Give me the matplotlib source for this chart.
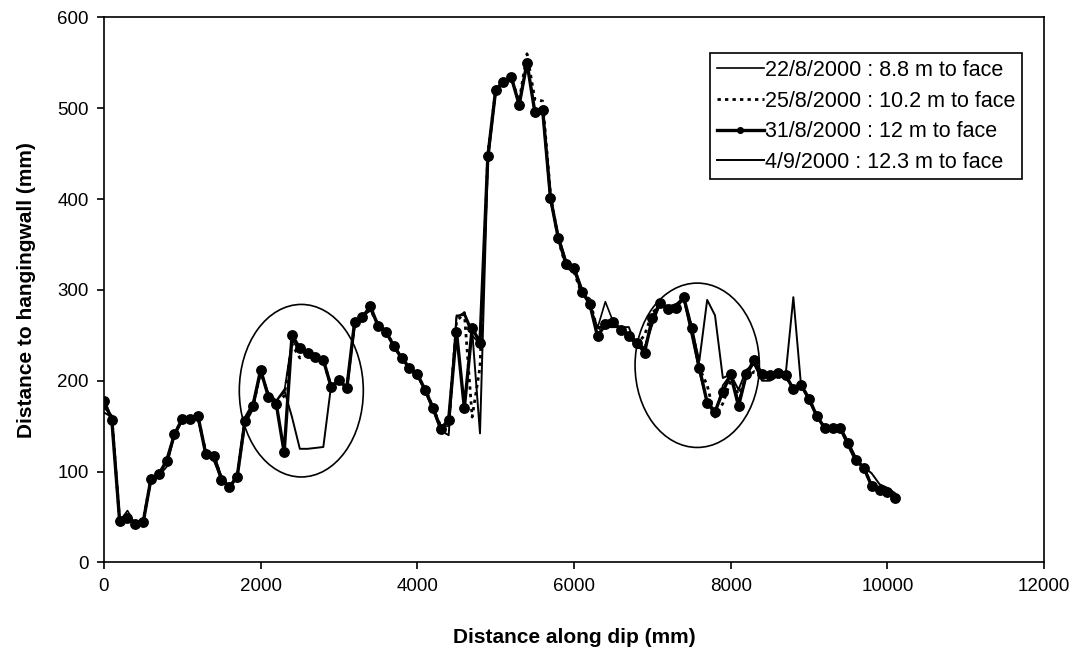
#roof profiles along dip for four survey dates
import matplotlib.pyplot as plt
from matplotlib.patches import Ellipse

plt.rcParams['font.family'] = ['Liberation Sans', 'DejaVu Sans']

dist = list(range(0, 10200, 100))

d_22_8 = [170, 162, 45, 57, 42, 45, 92, 95, 105, 140, 158, 160, 158, 120, 112, 92, 83, 96,
          152, 168, 210, 185, 178, 187, 245, 232, 230, 226, 222, 195, 200, 192, 262, 272,
          280, 262, 255, 238, 225, 213, 207, 190, 168, 150, 150, 272, 272, 250, 240, 445,
          522, 530, 532, 506, 548, 498, 500, 403, 355, 330, 322, 300, 283, 258, 287, 265,
          258, 252, 244, 236, 265, 284, 280, 282, 290, 250, 210, 175, 162, 195, 207, 178,
          205, 220, 205, 205, 205, 205, 192, 195, 178, 160, 148, 148, 147, 132, 115, 104,
          86, 82, 79, 74]
d_25_8 = [172, 160, 46, 50, 43, 45, 93, 96, 110, 142, 157, 158, 160, 121, 118, 93, 84, 95,
          155, 170, 210, 184, 176, 183, 240, 225, 228, 224, 222, 194, 202, 193, 263, 271,
          278, 262, 253, 240, 224, 215, 205, 192, 170, 150, 152, 265, 275, 160, 215, 450,
          520, 530, 533, 508, 560, 510, 508, 405, 355, 325, 320, 295, 290, 255, 268, 263,
          255, 248, 240, 250, 275, 283, 280, 282, 290, 260, 214, 195, 160, 175, 200, 185,
          203, 210, 208, 206, 207, 205, 190, 196, 180, 162, 148, 148, 148, 130, 113, 104,
          85, 80, 77, 72]
d_31_8 = [178, 157, 45, 49, 42, 44, 92, 97, 112, 141, 158, 158, 161, 119, 117, 91, 83, 94,
          156, 172, 212, 182, 174, 121, 250, 236, 230, 226, 223, 193, 201, 192, 265, 270,
          282, 260, 254, 238, 225, 214, 207, 190, 170, 147, 157, 254, 170, 258, 242, 447,
          520, 529, 534, 504, 550, 496, 498, 401, 357, 328, 324, 298, 285, 249, 262, 265,
          256, 249, 242, 231, 269, 286, 279, 280, 292, 258, 214, 176, 166, 188, 207, 172,
          207, 223, 207, 206, 208, 206, 191, 195, 180, 161, 148, 148, 148, 131, 113, 104,
          84, 80, 77, 71]
d_4_9 = [165, 160, 47, 52, 42, 44, 90, 96, 112, 140, 156, 157, 158, 122, 120, 94, 84, 94,
         160, 175, 208, 186, 178, 190, 160, 125, 125, 126, 127, 195, 200, 190, 260, 270,
         278, 262, 256, 236, 226, 215, 206, 188, 168, 145, 140, 270, 275, 255, 142, 440,
         518, 528, 535, 502, 552, 495, 496, 398, 360, 332, 326, 302, 282, 259, 259, 259,
         259, 259, 236, 236, 262, 285, 282, 284, 292, 258, 222, 289, 272, 203, 207, 190,
         212, 218, 200, 200, 205, 205, 292, 193, 182, 160, 150, 149, 146, 128, 110, 105,
         98, 86, 82, 76]

labels = ['22/8/2000 : 8.8 m to face', '25/8/2000 : 10.2 m to face',
          '31/8/2000 : 12 m to face', '4/9/2000 : 12.3 m to face']

fig = plt.figure(figsize=(10.82, 6.55), dpi=100)
ax = fig.add_axes([0.0961, 0.1415, 0.8688, 0.8318])

ax.plot(dist, d_22_8, color='k', linewidth=1.2, label=labels[0])
ax.plot(dist, d_25_8, color='k', linewidth=2.0, linestyle=(0, (1.2, 1.5)), label=labels[1])
ax.plot(dist, d_31_8, color='k', linewidth=2.4, marker='o', markersize=6.8, label=labels[2])
ax.plot(dist, d_4_9, color='k', linewidth=1.4, label=labels[3])

# circled areas
ax.add_patch(Ellipse((2519, 189), 1583, 190, fill=False, edgecolor='k', linewidth=1.2))
ax.add_patch(Ellipse((7573, 217), 1587, 181, fill=False, edgecolor='k', linewidth=1.2))

ax.set_xlim(0, 12000)
ax.set_ylim(0, 600)
ax.set_xticks(range(0, 12001, 2000))
ax.set_yticks(range(0, 601, 100))
ax.tick_params(labelsize=13.5, direction='out', length=5, width=1.2, pad=6)
for s in ax.spines.values():
    s.set_linewidth(1.2)

ax.set_xlabel('Distance along dip (mm)', fontsize=15, fontweight='bold', labelpad=24)
ax.set_ylabel('Distance to hangingwall (mm)', fontsize=15, fontweight='bold', labelpad=15)

leg = ax.legend(loc='upper right', bbox_to_anchor=(0.9766, 0.934), borderaxespad=0,
                fontsize=15.5, frameon=True, fancybox=False, edgecolor='k', framealpha=1,
                handlelength=2.2, handletextpad=0.05, labelspacing=0.45, markerscale=0.6,
                borderpad=0.3)
leg.get_frame().set_linewidth(1.2)

fig.savefig('out.png', dpi=100)
